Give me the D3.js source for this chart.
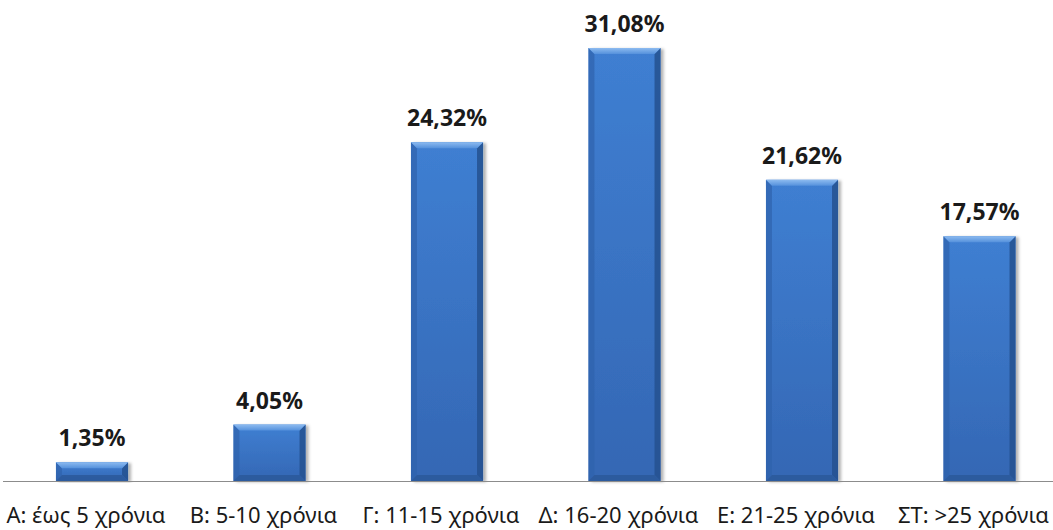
<!DOCTYPE html>
<html>
  <head>
    <meta charset="UTF-8" />
    <title>Χρόνια υπηρεσίας</title>
    <script src="https://d3js.org/d3.v7.min.js"></script>
    <style>
      body {
        margin: 0;
        background-color: #fff;
        overflow: hidden;
      }
      svg {
        display: block;
      }
      .value {
        font-family: "Noto Sans", sans-serif;
        font-weight: bold;
        font-size: 23px;
        fill: #1a1a1a;
      }
      .cat {
        font-family: "Noto Sans", sans-serif;
        font-size: 22px;
        fill: #1a1a1a;
      }
    </style>
  </head>
  <body>
    <div id="chart"></div>
    <script>
      const categories = [
        "Α: έως 5 χρόνια",
        "Β: 5-10 χρόνια",
        "Γ: 11-15 χρόνια",
        "Δ: 16-20 χρόνια",
        "Ε: 21-25 χρόνια",
        "ΣΤ: >25 χρόνια",
      ];
      const values = [1.35, 4.05, 24.32, 31.08, 21.62, 17.57];
      const valueLabels = ["1,35%", "4,05%", "24,32%", "31,08%", "21,62%", "17,57%"];

      const width = 1053;
      const height = 530;
      const baseY = 481;

      const svg = d3
        .select("#chart")
        .append("svg")
        .attr("width", width)
        .attr("height", height);

      const defs = svg.append("defs");

      // main body gradient
      const body = defs
        .append("linearGradient")
        .attr("id", "barBody")
        .attr("x1", 0)
        .attr("y1", 0)
        .attr("x2", 0)
        .attr("y2", 1);
      body.append("stop").attr("offset", "0%").attr("stop-color", "#3f7fd2");
      body.append("stop").attr("offset", "100%").attr("stop-color", "#3467b4");

      const topBevel = defs
        .append("linearGradient")
        .attr("id", "barTop")
        .attr("x1", 0)
        .attr("y1", 0)
        .attr("x2", 0)
        .attr("y2", 1);
      topBevel.append("stop").attr("offset", "0%").attr("stop-color", "#8dbbf0");
      topBevel.append("stop").attr("offset", "100%").attr("stop-color", "#5591dc");

      const shadow = defs.append("filter").attr("id", "shadow").attr("x", "-20%").attr("width", "150%");
      shadow
        .append("feDropShadow")
        .attr("dx", 3)
        .attr("dy", 1)
        .attr("stdDeviation", 1.6)
        .attr("flood-color", "#000")
        .attr("flood-opacity", 0.3);

      const x = d3
        .scaleBand()
        .domain(categories)
        .range([3.25, 1068.25])
        .paddingInner(0.594)
        .paddingOuter(0.297);

      const y = d3.scaleLinear().domain([0, 31.08]).range([baseY, 48]);

      const data = categories.map((c, i) => ({ cat: c, value: values[i], label: valueLabels[i] }));

      const bars = svg
        .append("g")
        .selectAll("g")
        .data(data)
        .enter()
        .append("g")
        .attr("transform", (d) => `translate(${x(d.cat)},0)`);

      const bw = x.bandwidth();
      const bev = 6;

      bars
        .append("rect")
        .attr("x", 0)
        .attr("y", (d) => y(d.value))
        .attr("width", bw)
        .attr("height", (d) => baseY - y(d.value))
        .attr("fill", "url(#barBody)")
        .attr("filter", "url(#shadow)");

      // left edge
      bars
        .append("path")
        .attr("d", (d) => {
          const t = y(d.value);
          const b = Math.min(bev, (baseY - t) / 2);
          return `M0,${t}L${b},${t + b}L${b},${baseY - b}L0,${baseY}Z`;
        })
        .attr("fill", "#2f63ad")
        .attr("opacity", 0.7);

      // right edge
      bars
        .append("path")
        .attr("d", (d) => {
          const t = y(d.value);
          const b = Math.min(bev, (baseY - t) / 2);
          return `M${bw},${t}L${bw - b},${t + b}L${bw - b},${baseY - b}L${bw},${baseY}Z`;
        })
        .attr("fill", "#24518f")
        .attr("opacity", 0.85);

      // bottom edge
      bars
        .append("path")
        .attr("d", (d) => {
          const t = y(d.value);
          const b = Math.min(bev, (baseY - t) / 2);
          return `M0,${baseY}L${b},${baseY - b}L${bw - b},${baseY - b}L${bw},${baseY}Z`;
        })
        .attr("fill", "#2a5898")
        .attr("opacity", 0.8);

      // top bevel
      bars
        .append("path")
        .attr("d", (d) => {
          const t = y(d.value);
          const b = Math.min(bev, (baseY - t) / 2);
          return `M0,${t}L${bw},${t}L${bw - b},${t + b}L${b},${t + b}Z`;
        })
        .attr("fill", "url(#barTop)");

      bars
        .append("text")
        .attr("class", "value")
        .attr("x", bw / 2)
        .attr("y", (d) => y(d.value) - 16)
        .attr("text-anchor", "middle")
        .text((d) => d.label);

      // baseline
      svg
        .append("line")
        .attr("x1", 3)
        .attr("x2", width)
        .attr("y1", baseY + 0.5)
        .attr("y2", baseY + 0.5)
        .attr("stroke", "#8c8c8c")
        .attr("stroke-width", 1.2);

      // category labels
      const cats = svg
        .append("g")
        .selectAll("text")
        .data(categories)
        .enter()
        .append("text")
        .attr("class", "cat")
        .attr("y", 523)
        .attr("text-anchor", "middle")
        .attr("x", (d) => x(d) + bw / 2 - 6)
        .text((d) => d);

      cats.each(function () {
        const w = this.getComputedTextLength();
        const cx = +d3.select(this).attr("x");
        if (cx - w / 2 < 1) {
          d3.select(this).attr("text-anchor", "start").attr("x", 1);
        }
      });
    </script>
  </body>
</html>
